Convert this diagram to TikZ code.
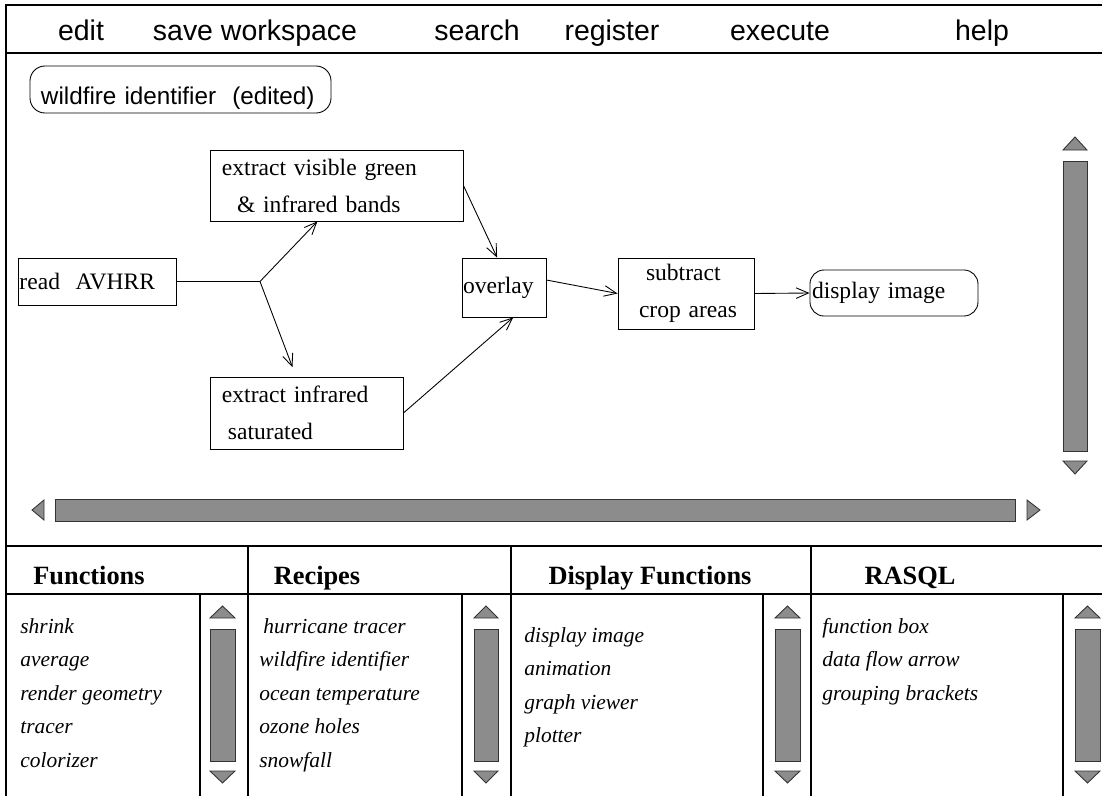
\documentclass[tikz,border=0pt]{standalone}
\usepackage{fontspec}
\setmainfont{Liberation Serif}
\setsansfont{Liberation Sans}
\usetikzlibrary{arrows.meta}
\definecolor{bargray}{gray}{0.55}

\begin{document}
\begin{tikzpicture}[scale=0.2]
\tikzstyle{every node}+=[inner sep=0pt]
\tikzstyle{box}=[draw, rectangle, line width=0.5pt, inner ysep=0pt, align=left, font=\fontsize{13.4}{21}\selectfont]
\tikzstyle{menu}=[anchor=base, font=\fontsize{16.2}{19}\sffamily]
\tikzstyle{head}=[anchor=base, font=\fontsize{15}{18}\selectfont\bfseries]
\tikzstyle{item}=[anchor=base west, font=\fontsize{12.2}{15}\selectfont\itshape]
\tikzstyle{flow}=[-{Straight Barb[length=7pt,width=6pt]}, line width=0.5pt]
\tikzstyle{bar}=[draw=black!80, fill=bargray, line width=0.5pt]
\useasboundingbox (0,0) rectangle (110.2,-79.6);
\draw [line width=1.4pt] (0.6,-79.6) -- (0.6,-0.5) -- (110.2,-0.5);
\draw [line width=0.8pt] (0.6,-5.3) -- (110.2,-5.3);
\draw [line width=1.4pt] (0.6,-54.6) -- (110.2,-54.6);
\draw [line width=0.6pt] (0.6,-59.4) -- (110.2,-59.4);
\draw [line width=0.6pt] (24.8,-54.6) -- (24.8,-79.6);
\draw [line width=0.6pt] (51.1,-54.6) -- (51.1,-79.6);
\draw [line width=0.6pt] (81.1,-54.6) -- (81.1,-79.6);
\draw [line width=0.6pt] (20.0,-59.4) -- (20.0,-79.6);
\draw [line width=0.6pt] (46.2,-59.4) -- (46.2,-79.6);
\draw [line width=0.6pt] (76.3,-59.4) -- (76.3,-79.6);
\draw [line width=0.6pt] (106.3,-59.4) -- (106.3,-79.6);
\node [menu] (edit) at (8.1,-4.0) {edit};
\node [menu] (save) at (25.5,-4.0) {save workspace};
\node [menu] (search) at (47.7,-4.0) {search};
\node [menu] (register) at (61.2,-4.0) {register};
\node [menu] (execute) at (78.0,-4.0) {execute};
\node [menu] (help) at (98.2,-4.0) {help};
\node [draw, rounded corners=0.3cm, line width=0.5pt, inner xsep=0.22cm, inner ysep=0pt, text width=5.58cm, text height=0.76cm, text depth=0.18cm, align=left, font=\fontsize{13.8}{16}\sffamily] (title) at (18.05,-8.95) {wildfire identifier\ \ (edited)};
\node [box, text width=3.12cm, inner xsep=0.02cm, minimum height=0.94cm] (read) at (9.75,-28.15) {read\ \ AVHRR};
\node [box, text width=4.58cm, inner xsep=0.24cm, minimum height=1.42cm] (green) at (33.65,-18.55) {extract visible green\\\hspace*{0.3cm}\& infrared bands};
\node [box, text width=3.38cm, inner xsep=0.24cm, minimum height=1.44cm] (infra) at (30.65,-41.3) {extract infrared\\\hspace*{0.12cm}saturated};
\node [box, text width=1.64cm, inner xsep=0.02cm, minimum height=1.18cm] (overlay) at (50.4,-28.75) {overlay};
\node [box, text width=2.52cm, inner xsep=0.1cm, minimum height=1.42cm] (subtract) at (68.6,-29.35) {\hspace*{0.46cm}subtract\\\hspace*{0.32cm}crop areas};
\node [box, rounded corners=0.28cm, text width=3.28cm, inner xsep=0.04cm, minimum height=0.92cm] (display) at (89.4,-29.3) {display image};
\coordinate (split) at (26.0,-28.15);
\draw [line width=0.5pt] (read.east) -- (split);
\draw [flow] (split) -- (green.242);
\draw [flow, shorten >=5.7pt] (split) -- (infra.106);
\draw [flow] (green.east) -- (overlay.103);
\draw [flow] (infra.east) -- (overlay.-73);
\draw [flow] (overlay.10) -- (subtract.west);
\draw [flow] (subtract.east) -- (display.west);
\draw [bar] (107.5,-13.7) -- (106.3,-15.0) -- (108.7,-15.0) -- cycle;
\draw [bar] (106.3,-16.1) rectangle (108.7,-45.1);
\draw [bar] (106.3,-46.1) -- (108.7,-46.1) -- (107.5,-47.4) -- cycle;
\draw [bar] (3.2,-51.0) -- (4.4,-50.0) -- (4.4,-52.0) -- cycle;
\draw [bar] (5.5,-49.9) rectangle (101.5,-52.1);
\draw [bar] (102.7,-50.0) -- (104.0,-51.0) -- (102.7,-52.0) -- cycle;
\node [head] (hfun) at (8.9,-58.4) {Functions};
\node [head] (hrec) at (31.7,-58.4) {Recipes};
\node [head] (hdisp) at (65.0,-58.4) {Display Functions};
\node [head] (hrasql) at (91.0,-58.4) {RASQL};
\node [item] (f1) at (2.0,-63.3) {shrink};
\node [item] (f2) at (2.0,-66.65) {average};
\node [item] (f3) at (2.0,-70.0) {render geometry};
\node [item] (f4) at (2.0,-73.35) {tracer};
\node [item] (f5) at (2.0,-76.7) {colorizer};
\node [item] (r1) at (26.3,-63.3) {hurricane tracer};
\node [item] (r2) at (25.9,-66.65) {wildfire identifier};
\node [item] (r3) at (25.9,-70.0) {ocean temperature};
\node [item] (r4) at (25.9,-73.35) {ozone holes};
\node [item] (r5) at (25.9,-76.7) {snowfall};
\node [item] (d1) at (52.4,-64.2) {display image};
\node [item] (d2) at (52.4,-67.55) {animation};
\node [item] (d3) at (52.4,-70.9) {graph viewer};
\node [item] (d4) at (52.4,-74.25) {plotter};
\node [item] (q1) at (82.2,-63.3) {function box};
\node [item] (q2) at (82.2,-66.65) {data flow arrow};
\node [item] (q3) at (82.2,-70.0) {grouping brackets};
\draw [bar] (22.25,-60.6) -- (21.0,-61.8) -- (23.5,-61.8) -- cycle;
\draw [bar] (21.0,-62.9) rectangle (23.5,-76.1);
\draw [bar] (21.0,-77.1) -- (23.5,-77.1) -- (22.25,-78.3) -- cycle;
\draw [bar] (48.6,-60.6) -- (47.4,-61.8) -- (49.8,-61.8) -- cycle;
\draw [bar] (47.4,-62.9) rectangle (49.8,-76.1);
\draw [bar] (47.4,-77.1) -- (49.8,-77.1) -- (48.6,-78.3) -- cycle;
\draw [bar] (78.75,-60.6) -- (77.5,-61.8) -- (80.0,-61.8) -- cycle;
\draw [bar] (77.5,-62.9) rectangle (80.0,-76.1);
\draw [bar] (77.5,-77.1) -- (80.0,-77.1) -- (78.75,-78.3) -- cycle;
\draw [bar] (108.75,-60.6) -- (107.5,-61.8) -- (110.0,-61.8) -- cycle;
\draw [bar] (107.5,-62.9) rectangle (110.0,-76.1);
\draw [bar] (107.5,-77.1) -- (110.0,-77.1) -- (108.75,-78.3) -- cycle;
\end{tikzpicture}
\end{document}
